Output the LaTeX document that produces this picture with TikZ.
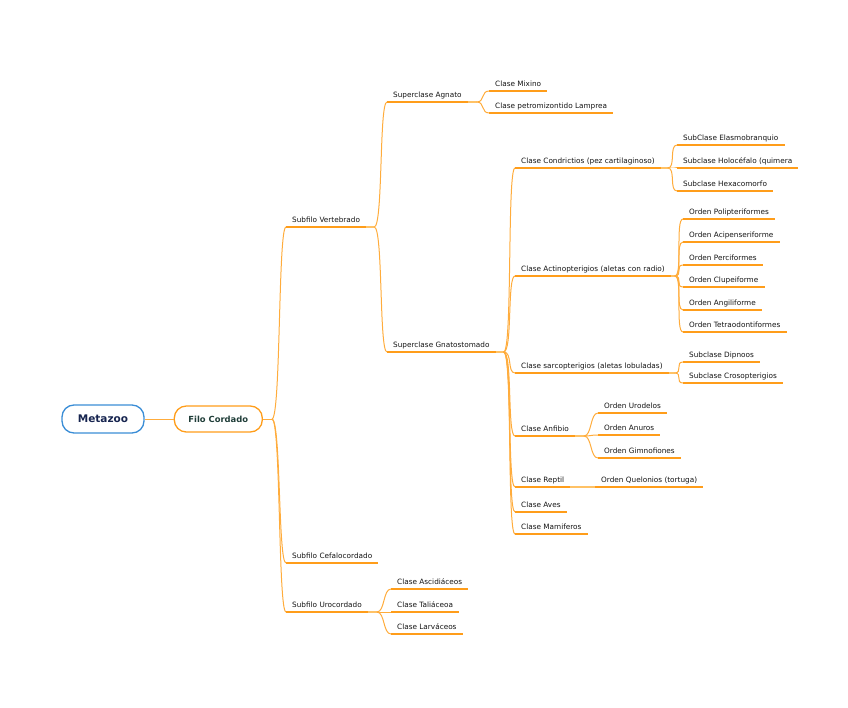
\documentclass[tikz,border=0pt]{standalone}
\usepackage{fontspec}
\setmainfont{DejaVu Sans}
\usetikzlibrary{positioning}
\definecolor{mmorange}{HTML}{FF9D1A}
\definecolor{mmlight}{HTML}{FFC266}
\definecolor{mmblue}{HTML}{3A8DD6}
\definecolor{mmnavy}{HTML}{16244F}
\definecolor{mmteal}{HTML}{1F3D38}
\definecolor{mmtext}{HTML}{141414}

\begin{document}
\begin{tikzpicture}[
  x=1pt, y=-1pt,
  lbl/.style={anchor=south west, inner xsep=6pt, inner ysep=3pt, text depth=1.6pt, font=\fontsize{7.3}{8}\selectfont, text=mmtext},
  uline/.style={draw=mmorange, line width=1.8pt},
  tail/.style={draw=mmlight, line width=1.1pt},
  twig/.style={draw=mmorange!85!white, line width=1pt},
  root/.style={draw=mmblue, line width=1.3pt, rounded corners=12pt, minimum width=82pt, minimum height=28pt, font=\bfseries\fontsize{10.5}{12}\selectfont, text=mmnavy},
  main/.style={draw=mmorange, line width=1.3pt, rounded corners=12pt, minimum width=88pt, minimum height=26pt, font=\bfseries\fontsize{8.4}{10}\selectfont, text=mmteal}
  ]
  \useasboundingbox (0,0) rectangle (848,708);
  % centro
  \node[root] (meta) at (103,419) {Metazoo};
  \node[main, right=29pt of meta] (filo) {Filo Cordado};
  \coordinate[right=9pt of filo] (fB);
  % subfilos
  \node[lbl] (vert) at (286,227) {Subfilo Vertebrado};
  \node[lbl] (cefa) at (286,563) {Subfilo Cefalocordado};
  \node[lbl] (uro) at (286,612) {Subfilo Urocordado};
  % superclases
  \node[lbl] (agna) at (387,102) {Superclase Agnato};
  \node[lbl] (gnat) at (387,352) {Superclase Gnatostomado};
  \node[lbl] (mixi) at (489,91) {Clase Mixino};
  \node[lbl] (lamp) at (489,113) {Clase petromizontido Lamprea};
  % clases de gnatostomados
  \node[lbl] (cond) at (515,168) {Clase Condrictios (pez cartilaginoso)};
  \node[lbl] (acti) at (515,276) {Clase Actinopterigios (aletas con radio)};
  \node[lbl] (sarc) at (515,373) {Clase sarcopterigios (aletas lobuladas)};
  \node[lbl] (anfi) at (515,436) {Clase Anfibio};
  \node[lbl] (rept) at (515,487) {Clase Reptil};
  \node[lbl] (aves) at (515,512) {Clase Aves};
  \node[lbl] (mami) at (515,534) {Clase Mamiferos};
  % condrictios
  \node[lbl] (elas) at (677,145) {SubClase Elasmobranquio};
  \node[lbl] (holo) at (677,168) {Subclase Holocéfalo (quimera};
  \node[lbl] (hexa) at (677,191) {Subclase Hexacomorfo};
  % actinopterigios
  \node[lbl] (poli) at (683,219) {Orden Polipteriformes};
  \node[lbl] (acip) at (683,242) {Orden Acipenseriforme};
  \node[lbl] (perc) at (683,265) {Orden Perciformes};
  \node[lbl] (clup) at (683,287) {Orden Clupeiforme};
  \node[lbl] (angi) at (683,310) {Orden Angiliforme};
  \node[lbl] (tetr) at (683,332) {Orden Tetraodontiformes};
  % sarcopterigios
  \node[lbl] (dipn) at (683,362) {Subclase Dipnoos};
  \node[lbl] (cros) at (683,383) {Subclase Crosopterigios};
  % anfibio, reptil
  \node[lbl] (urod) at (598,413) {Orden Urodelos};
  \node[lbl] (anur) at (598,435) {Orden Anuros};
  \node[lbl] (gimn) at (598,458) {Orden Gimnofiones};
  \node[lbl] (quel) at (595,487) {Orden Quelonios (tortuga)};
  % urocordado
  \node[lbl] (asci) at (391,589) {Clase Ascidiáceos};
  \node[lbl] (tali) at (391,612) {Clase Taliáceoa};
  \node[lbl] (larv) at (391,634) {Clase Larváceos};
  % puntos de rama
  \coordinate[right=8pt of vert.south east] (vB);
  \coordinate[right=9pt of uro.south east] (uB);
  \coordinate[right=9pt of agna.south east] (aB);
  \coordinate[right=8pt of gnat.south east] (gB);
  \coordinate[right=7pt of cond.south east] (cB);
  \coordinate[right=4pt of acti.south east] (acB);
  \coordinate[right=6pt of sarc.south east] (sB);
  \coordinate[right=9pt of anfi.south east] (anB);
  % subrayados
  \foreach \n in {vert,cefa,uro,agna,gnat,mixi,lamp,cond,acti,sarc,anfi,rept,aves,mami,elas,holo,hexa,poli,acip,perc,clup,angi,tetr,dipn,cros,urod,anur,gimn,quel,asci,tali,larv}
    \draw[uline] (\n.south west) -- (\n.south east);
  \draw[tail] (vert.south east) -- (vB); \draw[tail] (uro.south east) -- (uB);
  \draw[tail] (agna.south east) -- (aB); \draw[tail] (gnat.south east) -- (gB);
  \draw[tail] (cond.south east) -- (cB); \draw[tail] (acti.south east) -- (acB);
  \draw[tail] (sarc.south east) -- (sB); \draw[tail] (anfi.south east) -- (anB);
  \draw[tail] (rept.south east) -- (quel.south west);
  % ramas
  \draw[twig] (meta) -- (filo); \draw[twig] (filo) -- (fB);
  \foreach \c in {vert,cefa,uro} \draw[twig] (fB) .. controls +(9,0) and +(-8,0) .. (\c.south west);
  \foreach \c in {agna,gnat} \draw[twig] (vB) .. controls +(9,0) and +(-8,0) .. (\c.south west);
  \foreach \c in {asci,tali,larv} \draw[twig] (uB) .. controls +(8,0) and +(-8,0) .. (\c.south west);
  \foreach \c in {mixi,lamp} \draw[twig] (aB) .. controls +(8,0) and +(-8,0) .. (\c.south west);
  \foreach \c in {cond,acti,sarc,anfi,rept,aves,mami} \draw[twig] (gB) .. controls +(9,0) and +(-8,0) .. (\c.south west);
  \foreach \c in {elas,holo,hexa} \draw[twig] (cB) .. controls +(8,0) and +(-8,0) .. (\c.south west);
  \foreach \c in {poli,acip,perc,clup,angi,tetr} \draw[twig] (acB) .. controls +(8,0) and +(-8,0) .. (\c.south west);
  \foreach \c in {dipn,cros} \draw[twig] (sB) .. controls +(8,0) and +(-8,0) .. (\c.south west);
  \foreach \c in {urod,anur,gimn} \draw[twig] (anB) .. controls +(8,0) and +(-8,0) .. (\c.south west);
\end{tikzpicture}
\end{document}
